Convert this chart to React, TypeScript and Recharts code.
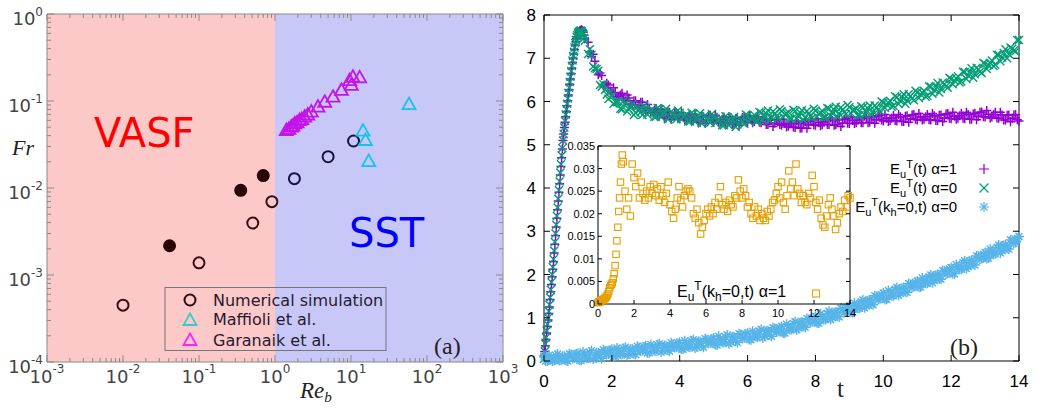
import { ScatterChart, Scatter, XAxis, YAxis, ReferenceArea } from "recharts"

// ---------- panel (a): Fr vs Re_b ----------
const reDecades = [0.001, 0.01, 0.1, 1, 10, 100, 1000]
const reExponents = ["-3", "-2", "-1", "0", "1", "2", "3"]
const frDecades = [0.0001, 0.001, 0.01, 0.1, 1]
const frExponents = ["-4", "-3", "-2", "-1", "0"]
const minorSteps = [2, 3, 4, 5, 6, 7, 8, 9]

const simOpenRe = [0.01, 0.1, 0.51, 0.91, 1.8, 5.0, 10.8]
const simOpenFr = [0.00045, 0.00138, 0.00396, 0.00696, 0.0128, 0.0229, 0.0347]
const simFilledRe = [0.041, 0.354, 0.7]
const simFilledFr = [0.00217, 0.0094, 0.0139]
const maffioliRe = [14.4, 15.5, 17.1, 58]
const maffioliFr = [0.0456, 0.0356, 0.0204, 0.092]
const garanaikRe = [1.41, 1.52, 1.64, 1.72, 1.82, 1.95, 2.11, 2.25, 2.46, 2.7, 3.01, 3.68, 4.51, 5.8, 7.48, 9.6, 10.1, 10.6, 13.0]
const garanaikFr = [0.0464, 0.048, 0.0507, 0.052, 0.0554, 0.057, 0.0605, 0.062, 0.066, 0.07, 0.0754, 0.086, 0.098, 0.112, 0.134, 0.174, 0.153, 0.19, 0.187]

// ---------- panel (b): E_u^T(t) ----------
const tTicks = [0, 2, 4, 6, 8, 10, 12, 14]
const eTicks = [0, 1, 2, 3, 4, 5, 6, 7, 8]
const insetTicks = [0, 0.005, 0.01, 0.015, 0.02, 0.025, 0.03, 0.035]
const insetTickLabels = ["0", "0.005", "0.01", "0.015", "0.02", "0.025", "0.03", "0.035"]

const tRise = [0, 0.04, 0.08, 0.12, 0.16, 0.2, 0.24, 0.28, 0.32, 0.36, 0.4, 0.44, 0.48, 0.52, 0.56, 0.6,
  0.64, 0.68, 0.72, 0.76, 0.8, 0.84, 0.88, 0.92, 0.96, 1.0, 1.04, 1.08, 1.12, 1.16, 1.2]
const tRiseMid = [0.02, 0.06, 0.1, 0.14, 0.18, 0.22, 0.26, 0.3, 0.34, 0.38, 0.42, 0.46, 0.5, 0.54, 0.58,
  0.62, 0.66, 0.7, 0.74, 0.78, 0.82, 0.86, 0.9, 0.94, 0.98, 1.02, 1.06, 1.1, 1.14, 1.18]
const tFull = [
  0, 0.1, 0.2, 0.3, 0.4, 0.5, 0.6, 0.7, 0.8, 0.9,
  1, 1.1, 1.2, 1.3, 1.4, 1.5, 1.6, 1.7, 1.8, 1.9,
  2, 2.1, 2.2, 2.3, 2.4, 2.5, 2.6, 2.7, 2.8, 2.9,
  3, 3.1, 3.2, 3.3, 3.4, 3.5, 3.6, 3.7, 3.8, 3.9,
  4, 4.1, 4.2, 4.3, 4.4, 4.5, 4.6, 4.7, 4.8, 4.9,
  5, 5.1, 5.2, 5.3, 5.4, 5.5, 5.6, 5.7, 5.8, 5.9,
  6, 6.1, 6.2, 6.3, 6.4, 6.5, 6.6, 6.7, 6.8, 6.9,
  7, 7.1, 7.2, 7.3, 7.4, 7.5, 7.6, 7.7, 7.8, 7.9,
  8, 8.1, 8.2, 8.3, 8.4, 8.5, 8.6, 8.7, 8.8, 8.9,
  9, 9.1, 9.2, 9.3, 9.4, 9.5, 9.6, 9.7, 9.8, 9.9,
  10, 10.1, 10.2, 10.3, 10.4, 10.5, 10.6, 10.7, 10.8, 10.9,
  11, 11.1, 11.2, 11.3, 11.4, 11.5, 11.6, 11.7, 11.8, 11.9,
  12, 12.1, 12.2, 12.3, 12.4, 12.5, 12.6, 12.7, 12.8, 12.9,
  13, 13.1, 13.2, 13.3, 13.4, 13.5, 13.6, 13.7, 13.8, 13.9,
  14,
]
const tHalf = [
  0.05, 0.15, 0.25, 0.35, 0.45, 0.55, 0.65, 0.75, 0.85, 0.95,
  1.05, 1.15, 1.25, 1.35, 1.45, 1.55, 1.65, 1.75, 1.85, 1.95,
  2.05, 2.15, 2.25, 2.35, 2.45, 2.55, 2.65, 2.75, 2.85, 2.95,
  3.05, 3.15, 3.25, 3.35, 3.45, 3.55, 3.65, 3.75, 3.85, 3.95,
  4.05, 4.15, 4.25, 4.35, 4.45, 4.55, 4.65, 4.75, 4.85, 4.95,
  5.05, 5.15, 5.25, 5.35, 5.45, 5.55, 5.65, 5.75, 5.85, 5.95,
  6.05, 6.15, 6.25, 6.35, 6.45, 6.55, 6.65, 6.75, 6.85, 6.95,
  7.05, 7.15, 7.25, 7.35, 7.45, 7.55, 7.65, 7.75, 7.85, 7.95,
  8.05, 8.15, 8.25, 8.35, 8.45, 8.55, 8.65, 8.75, 8.85, 8.95,
  9.05, 9.15, 9.25, 9.35, 9.45, 9.55, 9.65, 9.75, 9.85, 9.95,
  10.05, 10.15, 10.25, 10.35, 10.45, 10.55, 10.65, 10.75, 10.85, 10.95,
  11.05, 11.15, 11.25, 11.35, 11.45, 11.55, 11.65, 11.75, 11.85, 11.95,
  12.05, 12.15, 12.25, 12.35, 12.45, 12.55, 12.65, 12.75, 12.85, 12.95,
  13.05, 13.15, 13.25, 13.35, 13.45, 13.55, 13.65, 13.75, 13.85, 13.95,
]
const tLate = tFull.slice(13) // 1.3 .. 14
const tLateHalf = tHalf.slice(13) // 1.35 .. 13.95
const tInsetLate = tFull.slice(15) // 1.5 .. 14

const alpha1Rise = [0.1, 0.35, 0.65, 0.95, 1.25, 1.6, 1.95, 2.3, 2.7, 3.1, 3.5, 3.9, 4.3, 4.7, 5.1, 5.4,
  5.65, 5.9, 6.15, 6.4, 6.65, 6.9, 7.1, 7.3, 7.45, 7.55, 7.62, 7.65, 7.65, 7.6, 7.45]
const alpha1RiseMid = [0.22, 0.5, 0.8, 1.1, 1.42, 1.77, 2.12, 2.5, 2.9, 3.3, 3.7, 4.1, 4.5, 4.9, 5.25,
  5.52, 5.77, 6.02, 6.27, 6.52, 6.77, 7.0, 7.2, 7.38, 7.5, 7.59, 7.64, 7.66, 7.63, 7.53]
const alpha1Late = [
  7.37, 7.04, 6.93, 6.62, 6.6, 6.38, 6.38,
  6.2, 6.21, 6.11, 6.19, 6.02, 6.08, 5.92, 6.02, 5.91, 5.98,
  5.8, 5.83, 5.76, 5.84, 5.69, 5.75, 5.62, 5.75, 5.66, 5.74,
  5.6, 5.65, 5.59, 5.69, 5.56, 5.63, 5.52, 5.65, 5.58, 5.68,
  5.53, 5.59, 5.53, 5.64, 5.5, 5.58, 5.47, 5.6, 5.54, 5.64,
  5.52, 5.58, 5.54, 5.65, 5.51, 5.59, 5.47, 5.58, 5.5, 5.58,
  5.45, 5.49, 5.43, 5.53, 5.4, 5.49, 5.39, 5.53, 5.46, 5.57,
  5.45, 5.51, 5.46, 5.59, 5.47, 5.56, 5.46, 5.58, 5.5, 5.61,
  5.49, 5.56, 5.51, 5.63, 5.51, 5.61, 5.52, 5.65, 5.58, 5.68,
  5.55, 5.61, 5.56, 5.68, 5.55, 5.65, 5.54, 5.67, 5.6, 5.7,
  5.57, 5.64, 5.59, 5.7, 5.57, 5.67, 5.56, 5.69, 5.62, 5.72,
  5.6, 5.66, 5.61, 5.73, 5.6, 5.7, 5.59, 5.73, 5.66, 5.76,
  5.64, 5.7, 5.64, 5.75, 5.61, 5.69, 5.57, 5.69, 5.61, 5.7,
  5.55,
]
const alpha1LateHalf = [
  7.15, 7.09, 6.72, 6.66, 6.37, 6.42, 6.24,
  6.32, 6.11, 6.15, 6.05, 6.15, 5.94, 6.02, 5.85, 5.98, 5.84,
  5.93, 5.75, 5.8, 5.71, 5.82, 5.63, 5.74, 5.59, 5.74, 5.62,
  5.74, 5.57, 5.64, 5.57, 5.7, 5.52, 5.64, 5.5, 5.67, 5.56,
  5.68, 5.51, 5.59, 5.51, 5.64, 5.47, 5.59, 5.45, 5.63, 5.53,
  5.67, 5.51, 5.6, 5.52, 5.65, 5.47, 5.58, 5.42, 5.58, 5.47,
  5.59, 5.41, 5.48, 5.41, 5.55, 5.38, 5.51, 5.38, 5.55, 5.46,
  5.6, 5.44, 5.53, 5.47, 5.62, 5.45, 5.57, 5.42, 5.59, 5.5,
  5.64, 5.49, 5.57, 5.51, 5.66, 5.51, 5.64, 5.5, 5.67, 5.57,
  5.7, 5.54, 5.62, 5.56, 5.7, 5.54, 5.66, 5.52, 5.69, 5.59,
  5.72, 5.57, 5.65, 5.58, 5.72, 5.56, 5.68, 5.54, 5.71, 5.61,
  5.75, 5.59, 5.67, 5.61, 5.75, 5.59, 5.71, 5.58, 5.75, 5.65,
  5.79, 5.62, 5.7, 5.62, 5.75, 5.57, 5.68, 5.53, 5.69, 5.58,
]
const alpha0Rise = [0.05, 0.4, 0.7, 1.0, 1.3, 1.65, 2.0, 2.35, 2.75, 3.15, 3.55, 3.95, 4.35, 4.75, 5.1, 5.4,
  5.7, 5.95, 6.2, 6.45, 6.7, 6.95, 7.15, 7.35, 7.5, 7.58, 7.62, 7.64, 7.62, 7.55, 7.4]
const alpha0RiseMid = [0.22, 0.55, 0.85, 1.15, 1.47, 1.82, 2.17, 2.55, 2.95, 3.35, 3.75, 4.15, 4.55, 4.92,
  5.25, 5.55, 5.82, 6.07, 6.32, 6.57, 6.82, 7.05, 7.25, 7.42, 7.54, 7.6, 7.63, 7.63, 7.58, 7.47]
const alpha0Late = [
  7.1, 7.08, 6.77, 6.71, 6.34, 6.27, 6.06,
  6.12, 5.99, 6.0, 5.82, 5.96, 5.82, 5.94, 5.74, 5.82, 5.69,
  5.85, 5.75, 5.81, 5.65, 5.82, 5.7, 5.83, 5.64, 5.71, 5.59,
  5.74, 5.65, 5.7, 5.54, 5.71, 5.59, 5.73, 5.54, 5.62, 5.51,
  5.65, 5.56, 5.61, 5.45, 5.63, 5.51, 5.64, 5.47, 5.57, 5.48,
  5.67, 5.61, 5.69, 5.55, 5.74, 5.64, 5.79, 5.63, 5.72, 5.61,
  5.78, 5.7, 5.75, 5.6, 5.78, 5.66, 5.8, 5.64, 5.72, 5.62,
  5.79, 5.71, 5.78, 5.64, 5.83, 5.73, 5.88, 5.72, 5.81, 5.71,
  5.87, 5.79, 5.84, 5.68, 5.86, 5.75, 5.91, 5.76, 5.86, 5.78,
  5.97, 5.93, 6.02, 5.9, 6.1, 6.01, 6.17, 6.02, 6.12, 6.03,
  6.21, 6.16, 6.25, 6.13, 6.34, 6.26, 6.43, 6.29, 6.4, 6.32,
  6.52, 6.48, 6.58, 6.46, 6.68, 6.6, 6.77, 6.63, 6.74, 6.66,
  6.87, 6.84, 6.95, 6.85, 7.08, 7.02, 7.21, 7.09, 7.22, 7.16,
  7.42,
]
const alpha0LateHalf = [
  7.21, 6.81, 6.75, 6.38, 6.4, 6.16, 6.22,
  5.95, 5.99, 5.83, 6.01, 5.77, 5.89, 5.69, 5.88, 5.75, 5.9,
  5.7, 5.78, 5.65, 5.85, 5.64, 5.77, 5.59, 5.77, 5.64, 5.79,
  5.59, 5.67, 5.54, 5.74, 5.53, 5.67, 5.49, 5.68, 5.56, 5.71,
  5.5, 5.58, 5.45, 5.66, 5.45, 5.58, 5.41, 5.62, 5.52, 5.7,
  5.54, 5.65, 5.54, 5.76, 5.57, 5.72, 5.56, 5.77, 5.66, 5.82,
  5.64, 5.72, 5.6, 5.81, 5.6, 5.74, 5.57, 5.78, 5.66, 5.83,
  5.65, 5.74, 5.63, 5.85, 5.66, 5.81, 5.65, 5.86, 5.75, 5.92,
  5.73, 5.81, 5.68, 5.89, 5.69, 5.84, 5.69, 5.91, 5.81, 6.0,
  5.85, 5.97, 5.88, 6.12, 5.94, 6.1, 5.95, 6.17, 6.07, 6.25,
  6.08, 6.2, 6.11, 6.35, 6.18, 6.35, 6.21, 6.44, 6.35, 6.55,
  6.4, 6.53, 6.44, 6.69, 6.52, 6.69, 6.55, 6.78, 6.69, 6.89,
  6.75, 6.89, 6.82, 7.08, 6.93, 7.12, 7.0, 7.25, 7.18, 7.42,
]
const kh0Alpha0 = [
  0.11, 0.0, 0.07, 0.01, 0.16, 0.02, 0.11, 0.0, 0.15, 0.07,
  0.18, 0.02, 0.15, 0.07, 0.24, 0.08, 0.19, 0.06, 0.23, 0.16,
  0.27, 0.11, 0.24, 0.15, 0.32, 0.16, 0.28, 0.15, 0.31, 0.24,
  0.35, 0.19, 0.32, 0.23, 0.4, 0.24, 0.36, 0.23, 0.39, 0.32,
  0.43, 0.27, 0.4, 0.32, 0.49, 0.33, 0.45, 0.32, 0.49, 0.42,
  0.53, 0.37, 0.5, 0.43, 0.6, 0.44, 0.56, 0.43, 0.61, 0.54,
  0.65, 0.49, 0.63, 0.55, 0.73, 0.57, 0.7, 0.57, 0.75, 0.68,
  0.8, 0.65, 0.8, 0.73, 0.91, 0.76, 0.9, 0.78, 0.96, 0.91,
  1.03, 0.88, 1.03, 0.96, 1.15, 1.0, 1.13, 1.02, 1.2, 1.15,
  1.27, 1.13, 1.28, 1.22, 1.41, 1.27, 1.41, 1.3, 1.49, 1.44,
  1.57, 1.43, 1.58, 1.51, 1.7, 1.56, 1.7, 1.59, 1.77, 1.72,
  1.85, 1.71, 1.86, 1.8, 1.99, 1.86, 2.0, 1.89, 2.08, 2.03,
  2.16, 2.02, 2.18, 2.12, 2.32, 2.18, 2.33, 2.22, 2.42, 2.37,
  2.51, 2.38, 2.53, 2.48, 2.68, 2.55, 2.69, 2.59, 2.79, 2.74,
  2.88,
]
const kh0Alpha0Half = [
  0.0, 0.14, 0.0, 0.13, 0.01, 0.11, 0.01, 0.17, 0.06, 0.16,
  0.02, 0.21, 0.07, 0.2, 0.04, 0.19, 0.09, 0.26, 0.15, 0.25,
  0.11, 0.3, 0.16, 0.29, 0.13, 0.27, 0.17, 0.34, 0.23, 0.33,
  0.19, 0.38, 0.24, 0.37, 0.21, 0.35, 0.25, 0.42, 0.31, 0.41,
  0.28, 0.47, 0.33, 0.46, 0.3, 0.45, 0.35, 0.52, 0.41, 0.51,
  0.38, 0.57, 0.43, 0.56, 0.4, 0.56, 0.46, 0.63, 0.52, 0.62,
  0.5, 0.69, 0.56, 0.69, 0.54, 0.69, 0.6, 0.77, 0.67, 0.77,
  0.65, 0.85, 0.73, 0.87, 0.72, 0.89, 0.8, 0.98, 0.89, 1.0,
  0.88, 1.09, 0.96, 1.1, 0.96, 1.12, 1.04, 1.22, 1.12, 1.24,
  1.13, 1.34, 1.22, 1.37, 1.23, 1.4, 1.32, 1.51, 1.42, 1.54,
  1.42, 1.63, 1.51, 1.66, 1.52, 1.68, 1.6, 1.79, 1.7, 1.82,
  1.71, 1.92, 1.8, 1.95, 1.81, 1.98, 1.9, 2.09, 2.01, 2.13,
  2.02, 2.23, 2.12, 2.27, 2.14, 2.31, 2.24, 2.43, 2.35, 2.47,
  2.37, 2.59, 2.47, 2.63, 2.5, 2.67, 2.6, 2.8, 2.72, 2.84,
]

// inset: E_u^T(k_h=0,t), alpha=1
const tInsetRise = [0, 0.05, 0.1, 0.15, 0.2, 0.25, 0.3, 0.35, 0.4, 0.45, 0.5, 0.55, 0.6, 0.65, 0.7,
  0.75, 0.8, 0.85, 0.9, 0.95, 1.0, 1.05, 1.1, 1.15, 1.2, 1.25, 1.3, 1.35, 1.4]
const kh0Alpha1Rise = [0.0003, 0.0005, 0.0004, 0.0007, 0.0008, 0.001, 0.0009, 0.0012, 0.0013, 0.0015,
  0.0018, 0.0022, 0.0028, 0.0036, 0.0041, 0.0044, 0.0047, 0.0056, 0.0067, 0.0085, 0.011, 0.014, 0.017,
  0.0205, 0.0235, 0.027, 0.031, 0.033, 0.0315]
const kh0Alpha1Late = [
  0.025, 0.021, 0.0235, 0.0195, 0.031,
  0.028, 0.026, 0.029, 0.0235, 0.027, 0.0245, 0.023, 0.025, 0.0235, 0.026,
  0.0245, 0.0265, 0.024, 0.0255, 0.023, 0.026, 0.024, 0.0225, 0.0245, 0.027,
  0.022, 0.0205, 0.019, 0.021, 0.0235, 0.026, 0.023, 0.0215, 0.024, 0.025,
  0.0255, 0.025, 0.0235, 0.02, 0.019, 0.021, 0.018, 0.0155, 0.017, 0.0185,
  0.02, 0.021, 0.0195, 0.0215, 0.02, 0.0225, 0.021, 0.0235, 0.026, 0.022,
  0.021, 0.0225, 0.0205, 0.023, 0.022, 0.0215, 0.024, 0.0235, 0.0275, 0.025,
  0.0235, 0.0255, 0.024, 0.0215, 0.0225, 0.02, 0.019, 0.0215, 0.0195, 0.021,
  0.0185, 0.02, 0.019, 0.0185, 0.0205, 0.0195, 0.021, 0.0225, 0.023, 0.0245,
  0.026, 0.0235, 0.027, 0.0225, 0.021, 0.024, 0.0295, 0.0255, 0.027, 0.024,
  0.031, 0.0255, 0.0245, 0.0225, 0.024, 0.0225, 0.022, 0.0245, 0.0235, 0.0285,
  0.026, 0.0225, 0.021, 0.023, 0.019, 0.0175, 0.017, 0.0195, 0.022, 0.0235,
  0.021, 0.0195, 0.0165, 0.018, 0.02, 0.0215, 0.0205, 0.023, 0.0215, 0.024,
  0.0235,
]

const pairs = (xs: number[], ys: number[]) => xs.map((x, i) => ({ x, y: ys[i] }))

const reTicks = reDecades.flatMap((d, i) => (i < reDecades.length - 1 ? [d, ...minorSteps.map((m) => d * m)] : [d]))
const frTicks = frDecades.flatMap((d, i) => (i < frDecades.length - 1 ? [d, ...minorSteps.map((m) => d * m)] : [d]))

const PURPLE = "#9400d3"
const GREEN = "#009e73"
const SKY = "#56b4e9"
const ORANGE = "#e69f00"
const FRAME_A = "#8a8a8a"
const GNU_FONT = "Liberation Sans, Arial, sans-serif"
const MPL_FONT = "DejaVu Sans, sans-serif"

// ---------- markers ----------
const Plus = ({ cx, cy, color, s = 4.5, w = 1.5 }: any) => (
  <path d={`M${cx - s},${cy}H${cx + s}M${cx},${cy - s}V${cy + s}`} stroke={color} strokeWidth={w} fill="none" />
)
const Cross = ({ cx, cy, color, s = 4, w = 1.4 }: any) => (
  <path d={`M${cx - s},${cy - s}L${cx + s},${cy + s}M${cx - s},${cy + s}L${cx + s},${cy - s}`} stroke={color} strokeWidth={w} fill="none" />
)
const Star = ({ cx, cy, color, s = 5, w = 1.4 }: any) => (
  <g stroke={color} strokeWidth={w} fill="none">
    <path d={`M${cx - s},${cy}H${cx + s}M${cx},${cy - s}V${cy + s}`} />
    <path d={`M${cx - s * 0.7},${cy - s * 0.7}L${cx + s * 0.7},${cy + s * 0.7}M${cx - s * 0.7},${cy + s * 0.7}L${cx + s * 0.7},${cy - s * 0.7}`} />
  </g>
)
const Square = ({ cx, cy, color, s = 3.2 }: any) => (
  <rect x={cx - s} y={cy - s} width={2 * s} height={2 * s} stroke={color} strokeWidth={1.1} fill="none" />
)
const Triangle = ({ cx, cy, color }: any) => (
  <path d={`M${cx},${cy - 6.5}L${cx + 6.5},${cy + 5}L${cx - 6.5},${cy + 5}Z`} stroke={color} strokeWidth={1.8} fill="none" />
)
const SimCircle = ({ cx, cy, payload, filled }: any) => {
  const c = payload && payload.x < 1 ? "#3a0c16" : "#17123e"
  return <circle cx={cx} cy={cy} r={5.5} fill={filled ? "#2a0404" : "none"} stroke={filled ? "#2a0404" : c} strokeWidth={2} />
}
const Nothing = () => <g />

// ---------- ticks ----------
const isDecade = (v: number) => {
  const e = Math.log10(v)
  return Math.abs(e - Math.round(e)) < 1e-6
}
const findIdx = (arr: number[], v: number) => arr.findIndex((d) => Math.abs(d - v) / d < 1e-6)

const LogBottomTick = ({ x, y, payload }: any) => {
  const major = isDecade(payload.value)
  const i = findIdx(reDecades, payload.value)
  return (
    <g>
      <line x1={x} x2={x} y1={y} y2={y - (major ? 7 : 4)} stroke={FRAME_A} />
      {major && i >= 0 && (
        <text x={x} y={y + 21} textAnchor="middle" fill="#444" fontSize={18} fontFamily={MPL_FONT}>
          10<tspan dy={-10} fontSize={12}>{reExponents[i]}</tspan>
        </text>
      )}
    </g>
  )
}
const LogTopTick = ({ x, y, payload }: any) => (
  <line x1={x} x2={x} y1={y} y2={y + (isDecade(payload.value) ? 7 : 4)} stroke={FRAME_A} />
)
const LogLeftTick = ({ x, y, payload }: any) => {
  const major = isDecade(payload.value)
  const i = findIdx(frDecades, payload.value)
  return (
    <g>
      <line x1={x} x2={x + (major ? 7 : 4)} y1={y} y2={y} stroke={FRAME_A} />
      {major && i >= 0 && (
        <text x={x - 4} y={y + 11} textAnchor="end" fill="#444" fontSize={18} fontFamily={MPL_FONT}>
          10<tspan dy={-9} fontSize={12}>{frExponents[i]}</tspan>
        </text>
      )}
    </g>
  )
}
const LogRightTick = ({ x, y, payload }: any) => (
  <line x1={x} x2={x - (isDecade(payload.value) ? 7 : 4)} y1={y} y2={y} stroke={FRAME_A} />
)

const LinBottomTick = ({ x, y, payload, len = 6, size = 17, dy = 26, fmt }: any) => (
  <g>
    <line x1={x} x2={x} y1={y} y2={y - len} stroke="#000" />
    <text x={x} y={y + dy} textAnchor="middle" fill="#000" fontSize={size} fontFamily={GNU_FONT}>
      {fmt ? fmt(payload.value) : payload.value}
    </text>
  </g>
)
const LinLeftTick = ({ x, y, payload, len = 6, size = 17, dx = 8, dy = 6, fmt }: any) => (
  <g>
    <line x1={x} x2={x + len} y1={y} y2={y} stroke="#000" />
    <text x={x - dx} y={y + dy} textAnchor="end" fill="#000" fontSize={size} fontFamily={GNU_FONT}>
      {fmt ? fmt(payload.value) : payload.value}
    </text>
  </g>
)
const LinTopTick = ({ x, y, len = 6 }: any) => <line x1={x} x2={x} y1={y} y2={y + len} stroke="#000" />
const LinRightTick = ({ x, y, len = 6 }: any) => <line x1={x} x2={x - len} y1={y} y2={y} stroke="#000" />

const insetFmt = (v: number) => insetTickLabels[findIdx(insetTicks.map((t) => t + 1), v + 1)]

function PanelA() {
  return (
    <ScatterChart width={520} height={408} margin={{ top: 13, right: 16, bottom: 16, left: 7 }}>
      <XAxis dataKey="x" type="number" scale="log" domain={[0.001, 1000]} ticks={reTicks} interval={0}
        height={30} tickSize={0} tickMargin={0} tick={<LogBottomTick />} axisLine={{ stroke: FRAME_A }} />
      <XAxis xAxisId="top" dataKey="x" orientation="top" type="number" scale="log" domain={[0.001, 1000]} ticks={reTicks}
        interval={0} height={1} tickSize={0} tickMargin={0} tick={<LogTopTick />} axisLine={{ stroke: FRAME_A }} />
      <YAxis dataKey="y" type="number" scale="log" domain={[0.0001, 1]} ticks={frTicks} interval={0}
        width={40} tickSize={0} tickMargin={0} tick={<LogLeftTick />} axisLine={{ stroke: FRAME_A }} />
      <YAxis yAxisId="right" dataKey="y" orientation="right" type="number" scale="log" domain={[0.0001, 1]} ticks={frTicks}
        interval={0} width={1} tickSize={0} tickMargin={0} tick={<LogRightTick />} axisLine={{ stroke: FRAME_A }} />
      <ReferenceArea x1={0.001} x2={1} y1={0.0001} y2={1} fill="#fdc8c8" fillOpacity={1} stroke="none" />
      <ReferenceArea x1={1} x2={1000} y1={0.0001} y2={1} fill="#c8c8f8" fillOpacity={1} stroke="none" />
      <Scatter xAxisId="top" yAxisId="right" data={pairs(simOpenRe, simOpenFr)} isAnimationActive={false} shape={Nothing} />
      <Scatter data={pairs(simOpenRe, simOpenFr)} isAnimationActive={false} shape={(p: any) => <SimCircle {...p} />} />
      <Scatter data={pairs(simFilledRe, simFilledFr)} isAnimationActive={false} shape={(p: any) => <SimCircle {...p} filled />} />
      <Scatter data={pairs(maffioliRe, maffioliFr)} isAnimationActive={false} shape={(p: any) => <Triangle cx={p.cx} cy={p.cy} color="#12c4ee" />} />
      <Scatter data={pairs(garanaikRe, garanaikFr)} isAnimationActive={false} shape={(p: any) => <Triangle cx={p.cx} cy={p.cy} color="#c414e8" />} />
    </ScatterChart>
  )
}

function PanelB() {
  return (
    <ScatterChart width={530} height={408} margin={{ top: 14, right: 30, bottom: 22, left: 0 }}>
      <XAxis dataKey="x" type="number" domain={[0, 14]} ticks={tTicks} interval={0} height={25}
        tickSize={0} tickMargin={0} tick={<LinBottomTick />} axisLine={{ stroke: "#000" }} />
      <XAxis xAxisId="top" dataKey="x" orientation="top" type="number" domain={[0, 14]} ticks={tTicks} interval={0} height={1}
        tickSize={0} tickMargin={0} tick={<LinTopTick />} axisLine={{ stroke: "#000" }} />
      <YAxis dataKey="y" type="number" domain={[0, 8]} ticks={eTicks} interval={0} width={24}
        tickSize={0} tickMargin={0} tick={<LinLeftTick />} axisLine={{ stroke: "#000" }} />
      <YAxis yAxisId="right" dataKey="y" orientation="right" type="number" domain={[0, 8]} ticks={eTicks} interval={0} width={1}
        tickSize={0} tickMargin={0} tick={<LinRightTick />} axisLine={{ stroke: "#000" }} />
      <Scatter xAxisId="top" yAxisId="right" data={pairs(tRise, alpha1Rise)} isAnimationActive={false} shape={Nothing} />
      <Scatter
        data={[...pairs(tRise, alpha1Rise), ...pairs(tRiseMid, alpha1RiseMid), ...pairs(tLate, alpha1Late), ...pairs(tLateHalf, alpha1LateHalf)]}
        isAnimationActive={false} shape={(p: any) => <Plus cx={p.cx} cy={p.cy} color={PURPLE} />} />
      <Scatter
        data={[...pairs(tRise, alpha0Rise), ...pairs(tRiseMid, alpha0RiseMid), ...pairs(tLate, alpha0Late), ...pairs(tLateHalf, alpha0LateHalf)]}
        isAnimationActive={false} shape={(p: any) => <Cross cx={p.cx} cy={p.cy} color={GREEN} />} />
      <Scatter data={[...pairs(tFull, kh0Alpha0), ...pairs(tHalf, kh0Alpha0Half)]} isAnimationActive={false}
        shape={(p: any) => <Star cx={p.cx} cy={p.cy} color={SKY} />} />
    </ScatterChart>
  )
}

function Inset() {
  return (
    <ScatterChart width={310} height={180} margin={{ top: 5, right: 7, bottom: 0, left: 0 }}>
      <XAxis dataKey="x" type="number" domain={[0, 14]} ticks={tTicks} interval={0} height={16}
        tickSize={0} tickMargin={0} tick={<LinBottomTick len={4} size={11} dy={13} />} axisLine={{ stroke: "#000" }} />
      <XAxis xAxisId="top" dataKey="x" orientation="top" type="number" domain={[0, 14]} ticks={tTicks} interval={0} height={1}
        tickSize={0} tickMargin={0} tick={<LinTopTick len={4} />} axisLine={{ stroke: "#000" }} />
      <YAxis dataKey="y" type="number" domain={[0, 0.035]} ticks={insetTicks} interval={0} width={50}
        tickSize={0} tickMargin={0} tick={<LinLeftTick len={4} size={11} dx={3} dy={4} fmt={insetFmt} />} axisLine={{ stroke: "#000" }} />
      <YAxis yAxisId="right" dataKey="y" orientation="right" type="number" domain={[0, 0.035]} ticks={insetTicks} interval={0} width={1}
        tickSize={0} tickMargin={0} tick={<LinRightTick len={4} />} axisLine={{ stroke: "#000" }} />
      <Scatter xAxisId="top" yAxisId="right" data={pairs(tInsetRise, kh0Alpha1Rise)} isAnimationActive={false} shape={Nothing} />
      <Scatter data={[...pairs(tInsetRise, kh0Alpha1Rise), ...pairs(tInsetLate, kh0Alpha1Late)]} isAnimationActive={false}
        shape={(p: any) => <Square cx={p.cx} cy={p.cy} color={ORANGE} />} />
    </ScatterChart>
  )
}

function Labels() {
  return (
    <svg width={1050} height={408} style={{ position: "absolute", left: 0, top: 0, pointerEvents: "none" }}>
      {/* panel (a) */}
      <text x={12} y={155} fontSize={22} fontStyle="italic" fontFamily="Liberation Serif, serif" fill="#222">Fr</text>
      <text x={300} y={398} fontSize={23} fontStyle="italic" fontFamily="Liberation Serif, serif" fill="#222">
        Re<tspan dy={4} fontSize={15}>b</tspan>
      </text>
      <text x={94} y={147} fontSize={40} fontFamily={MPL_FONT} fill="#ff0000">VASF</text>
      <text x={349} y={247} fontSize={40} fontFamily={MPL_FONT} fill="#0000ff">SST</text>
      <text x={434} y={354} fontSize={24} fontFamily="Liberation Serif, serif" fill="#222">(a)</text>
      <rect x={165} y={287.5} width={221} height={63} fill="none" stroke="#777" strokeWidth={1} />
      <circle cx={190} cy={300} r={5.5} fill="none" stroke="#2a0a14" strokeWidth={2} />
      <Triangle cx={190} cy={320} color="#33cccc" />
      <Triangle cx={190} cy={340} color="#ff22ff" />
      <text x={213} y={305.5} fontSize={16} fontFamily={MPL_FONT} fill="#261a30">Numerical simulation</text>
      <text x={213} y={325} fontSize={16} fontFamily={MPL_FONT} fill="#261a30">Maffioli et al.</text>
      <text x={213} y={345.5} fontSize={16} fontFamily={MPL_FONT} fill="#261a30">Garanaik et al.</text>

      {/* panel (b) */}
      <text x={837} y={397} fontSize={25} fontFamily="Liberation Serif, serif" fill="#222">t</text>
      <text x={950} y={355} fontSize={24} fontFamily="Liberation Serif, serif" fill="#222">(b)</text>
      <text x={957} y={174} textAnchor="end" fontSize={15} fontFamily={GNU_FONT} fill="#000">
        E<tspan dy={4} fontSize={11}>u</tspan><tspan dy={-10} fontSize={11}>T</tspan><tspan dy={6}>(t) α=1</tspan>
      </text>
      <text x={957} y={193} textAnchor="end" fontSize={15} fontFamily={GNU_FONT} fill="#000">
        E<tspan dy={4} fontSize={11}>u</tspan><tspan dy={-10} fontSize={11}>T</tspan><tspan dy={6}>(t) α=0</tspan>
      </text>
      <text x={957} y={212} textAnchor="end" fontSize={15} fontFamily={GNU_FONT} fill="#000">
        E<tspan dy={4} fontSize={11}>u</tspan><tspan dy={-10} fontSize={11}>T</tspan><tspan dy={6}>(k</tspan>
        <tspan dy={4} fontSize={11}>h</tspan><tspan dy={-4}>=0,t) α=0</tspan>
      </text>
      <Plus cx={984} cy={169} color={PURPLE} s={5} w={1.2} />
      <Cross cx={984} cy={188} color={GREEN} s={4.5} w={1.2} />
      <Star cx={984} cy={207} color={SKY} s={5} w={1.2} />
      <text x={677} y={297} fontSize={16} fontFamily={GNU_FONT} fill="#000">
        E<tspan dy={4} fontSize={12}>u</tspan><tspan dy={-11} fontSize={12}>T</tspan><tspan dy={7}>(k</tspan>
        <tspan dy={4} fontSize={12}>h</tspan><tspan dy={-4}>=0,t) α=1</tspan>
      </text>
      <Square cx={816} cy={293.5} color={ORANGE} s={3.5} />
    </svg>
  )
}

export default function App() {
  return (
    <div style={{ position: "absolute", left: 0, top: 0, width: 1050, height: 408, background: "#fff", overflow: "hidden" }}>
      <div style={{ position: "absolute", left: 0, top: 0 }}>
        <PanelA />
      </div>
      <div style={{ position: "absolute", left: 520, top: 0 }}>
        <PanelB />
      </div>
      <div style={{ position: "absolute", left: 548, top: 140 }}>
        <Inset />
      </div>
      <Labels />
    </div>
  )
}
